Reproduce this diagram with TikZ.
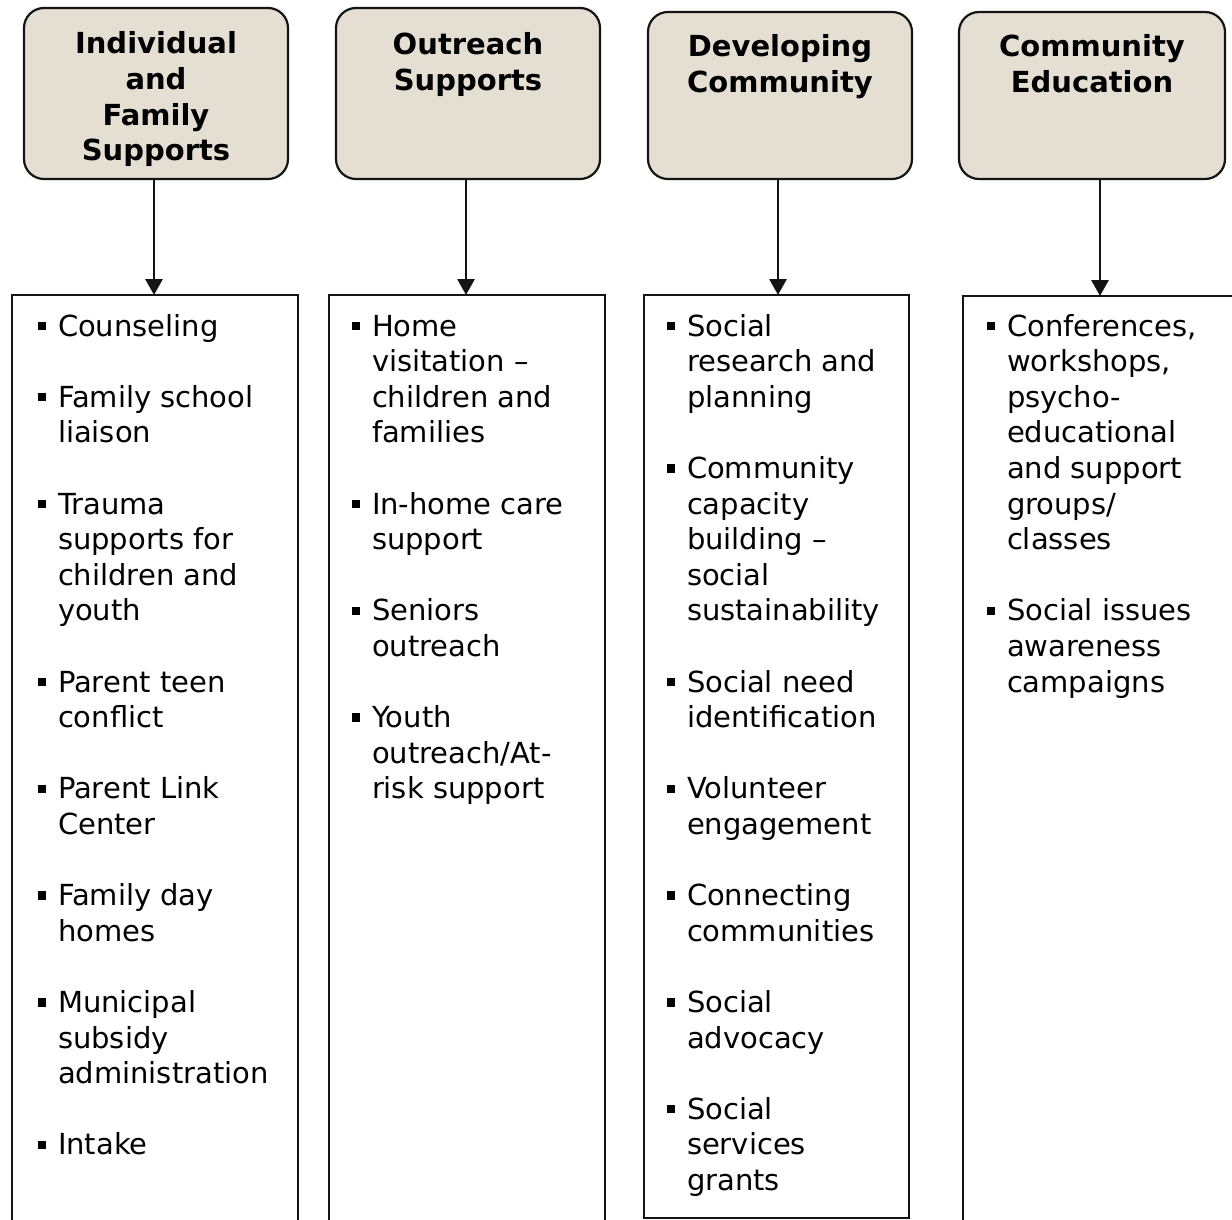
\documentclass[tikz,border=0pt]{standalone}
\usepackage{fontspec}
\setmainfont{DejaVu Sans}
\usetikzlibrary{arrows.meta}
\definecolor{headfill}{RGB}{229,223,211}
\definecolor{edge}{RGB}{20,20,20}
% square bullet followed by a hanging block of lines
\newcommand{\sqbullet}{\makebox[10pt][l]{\rule[2.9pt]{4.2pt}{4.2pt}}}
\newcommand{\entry}[1]{\sqbullet\parbox[t]{150pt}{\raggedright #1}}
\newcommand{\headtext}[1]{\parbox[t]{130pt}{\centering #1}}

\begin{document}
\begin{tikzpicture}[x=0.5pt,y=-0.5pt,
  every node/.style={inner sep=0pt, outer sep=0pt},
  bodyfont/.style={font=\fontsize{14.5pt}{17.8pt}\selectfont},
  headbox/.style={draw=edge, line width=1.1pt, fill=headfill, rounded corners=10pt,
    rectangle, anchor=north west},
  listbox/.style={draw=edge, line width=1.1pt, fill=white, rectangle, anchor=north west},
  headlabel/.style={font=\fontsize{14.5pt}{17.8pt}\selectfont\bfseries, anchor=base},
  item/.style={bodyfont, anchor=base west},
  arr/.style={draw=edge, line width=1.4pt, -{Triangle[width=8.5pt,length=8pt]}}
]
\useasboundingbox (0,0) rectangle (1232,1220);
\clip (0,0) rectangle (1232,1220);
\fill[white] (0,0) rectangle (1232,1220);

% column headers
\node[headbox, minimum width=132pt, minimum height=85.5pt] (H1) at (24,8) {};
\node[headbox, minimum width=132pt, minimum height=85.5pt] (H2) at (336,8) {};
\node[headbox, minimum width=132pt, minimum height=83.5pt] (H3) at (648,12) {};
\node[headbox, minimum width=133pt, minimum height=83.5pt] (H4) at (959,12) {};

\node[headlabel] (H1t) at (156,54) {\headtext{Individual\\and\\Family\\Supports}};
\node[headlabel] (H2t) at (468,55) {\headtext{Outreach\\Supports}};
\node[headlabel] (H3t) at (780,57) {\headtext{Developing\\Community}};
\node[headlabel] (H4t) at (1092,57) {\headtext{Community\\Education}};

% list panels
\node[listbox, minimum width=143pt, minimum height=472.5pt] (C1) at (12,295) {};
\node[listbox, minimum width=138pt, minimum height=472.5pt] (C2) at (329,295) {};
\node[listbox, minimum width=132.5pt, minimum height=461.5pt] (C3) at (644,295) {};
\node[listbox, minimum width=145pt, minimum height=472pt] (C4) at (963,296) {};

% connectors
\draw[arr] ([xshift=-1pt]H1.south) -- ([xshift=-1pt]H1.south |- C1.north);
\draw[arr] ([xshift=-1pt]H2.south) -- ([xshift=-1pt]H2.south |- C2.north);
\draw[arr] ([xshift=-1pt]H3.south) -- ([xshift=-1pt]H3.south |- C3.north);
\draw[arr] ([xshift=4pt]H4.south) -- ([xshift=4pt]H4.south |- C4.north);

% Individual and Family Supports
\node[item] (a1) at (38,336)    {\entry{Counseling}};
\node[item] (a2) at (38,407.2)  {\entry{Family school\\liaison}};
\node[item] (a3) at (38,514)    {\entry{Trauma\\supports for\\children and\\youth}};
\node[item] (a4) at (38,692)    {\entry{Parent teen\\conflict}};
\node[item] (a5) at (38,798.8)  {\entry{Parent Link\\Center}};
\node[item] (a6) at (38,905.6)  {\entry{Family day\\homes}};
\node[item] (a7) at (38,1012.4) {\entry{Municipal\\subsidy\\administration}};
\node[item] (a8) at (38,1154.8) {\entry{Intake}};

% Outreach Supports
\node[item] (b1) at (352,336)   {\entry{Home\\visitation –\\children and\\families}};
\node[item] (b2) at (352,514)   {\entry{In-home care\\support}};
\node[item] (b3) at (352,620.8) {\entry{Seniors\\outreach}};
\node[item] (b4) at (352,727.6) {\entry{Youth\\outreach/At-\\risk support}};

% Developing Community
\node[item] (c1) at (667,336)    {\entry{Social\\research and\\planning}};
\node[item] (c2) at (667,478.4)  {\entry{Community\\capacity\\building –\\social\\sustainability}};
\node[item] (c3) at (667,692)    {\entry{Social need\\identification}};
\node[item] (c4) at (667,798.8)  {\entry{Volunteer\\engagement}};
\node[item] (c5) at (667,905.6)  {\entry{Connecting\\communities}};
\node[item] (c6) at (667,1012.4) {\entry{Social\\advocacy}};
\node[item] (c7) at (667,1119.2) {\entry{Social\\services\\grants}};

% Community Education
\node[item] (d1) at (987,336)   {\entry{Conferences,\\workshops,\\psycho-\\educational\\and support\\groups/\\classes}};
\node[item] (d2) at (987,620.8) {\entry{Social issues\\awareness\\campaigns}};
\end{tikzpicture}
\end{document}
